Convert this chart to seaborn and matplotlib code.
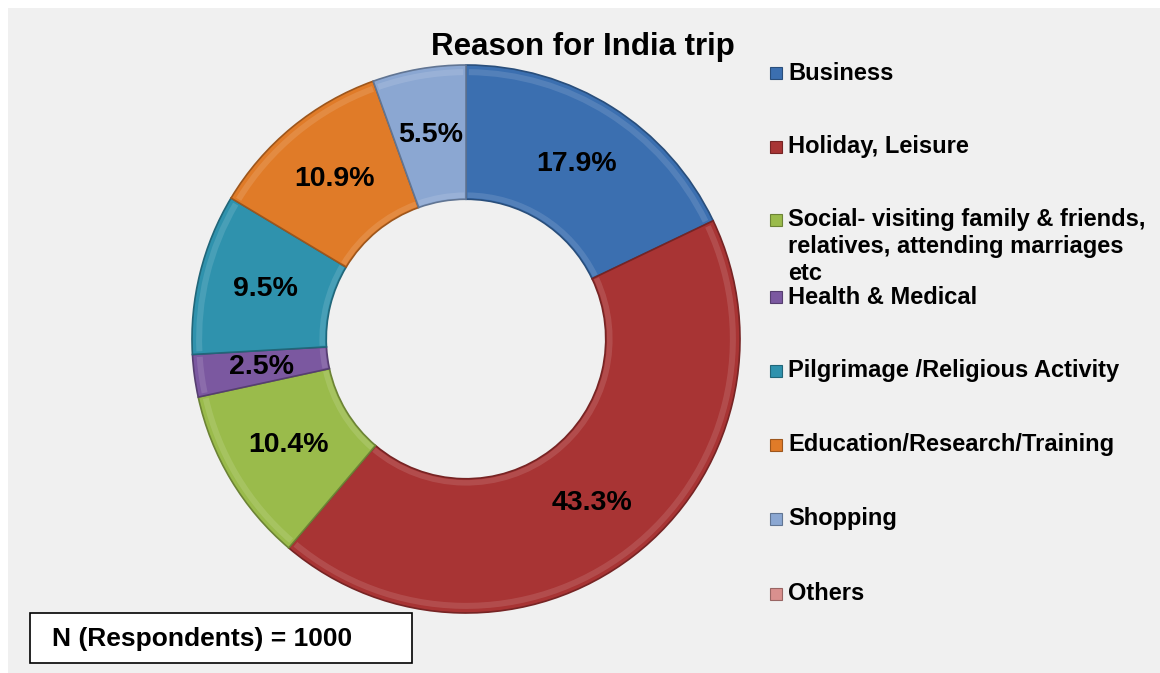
import matplotlib
matplotlib.use("Agg")
import matplotlib.pyplot as plt
from matplotlib.patches import Rectangle, Wedge
import numpy as np
import seaborn as sns

# Survey breakdown: reason for travelling to India (% of respondents)
categories = [
    "Business",
    "Holiday, Leisure",
    "Social- visiting family & friends,\nrelatives, attending marriages\netc",
    "Health & Medical",
    "Pilgrimage /Religious Activity",
    "Education/Research/Training",
    "Shopping",
    "Others",
]
shares = [17.9, 43.3, 10.4, 2.5, 9.5, 10.9, 5.5, 0.0]
colors = ["#3B6FB0", "#A83434", "#9ABB4B", "#7B58A0",
          "#2F92AD", "#E07B28", "#8BA7D2", "#D9908E"]
title = "Reason for India trip"
note = "N (Respondents) = 1000"

sns.set_theme(style="white")
plt.rcParams["font.family"] = ["Liberation Sans", "DejaVu Sans"]
plt.rcParams["font.weight"] = "bold"

W, H = 1160, 673
fig = plt.figure(figsize=(W / 100, H / 100), dpi=100)
fig.patch.set_facecolor("white")

# light grey chart area
fig.patches.append(Rectangle((8 / W, 0), 1 - 8 / W, (H - 8) / H,
                             transform=fig.transFigure, facecolor="#F0F0F0",
                             edgecolor="none", zorder=-10))

cx, cy, R = 466, 339, 274
ax = fig.add_axes([(cx - R) / W, (H - cy - R) / H, 2 * R / W, 2 * R / H])
ax.set_facecolor("none")

palette = sns.color_palette(colors)
edge_cols = [tuple(np.clip(np.array(c) * 0.7, 0, 1)) for c in palette]

ring = 0.49
wedges, _ = ax.pie(shares, colors=palette, startangle=90, counterclock=False,
                   radius=1.0,
                   wedgeprops=dict(width=ring, linewidth=1.2, edgecolor="#444444"))
for w, v, ec in zip(wedges, shares, edge_cols):
    w.set_edgecolor(ec)
    if v == 0:
        w.set_visible(False)

# soft bevel highlight along the outer and inner rims
for w, v, c in zip(wedges, shares, palette):
    if v == 0:
        continue
    light = tuple(np.clip(np.array(c) + (1 - np.array(c)) * 0.35, 0, 1))
    for r, wd in ((0.985, 0.022), (0.535, 0.02)):
        ax.add_patch(Wedge((0, 0), r, w.theta1 + 0.6, w.theta2 - 0.6,
                           width=wd, facecolor=light, edgecolor="none", alpha=0.35))

# percentage labels at ring mid-radius
for w, v in zip(wedges, shares):
    if v == 0:
        continue
    mid = np.deg2rad((w.theta1 + w.theta2) / 2)
    rr = 1 - ring / 2
    ax.text(rr * np.cos(mid), rr * np.sin(mid), f"{v:.1f}%",
            ha="center", va="center", fontsize=20.5, fontweight="bold", color="black")

ax.set_xlim(-1, 1)
ax.set_ylim(-1, 1)
ax.set_aspect("equal")
ax.axis("off")

fig.text(583 / W, 1 - 47 / H, title, ha="center", va="center",
         fontsize=22.5, fontweight="bold", color="black")

# legend
leg_y = [73, 147, 220, 297, 371, 445, 519, 594]
for lab, c, y in zip(categories, palette, leg_y):
    sq = 12
    fig.patches.append(Rectangle((770 / W, 1 - (y + sq / 2) / H), sq / W, sq / H,
                                 transform=fig.transFigure, facecolor=c,
                                 edgecolor=tuple(np.array(c) * 0.7), linewidth=0.8))
    for i, line in enumerate(lab.split("\n")):
        fig.text(788 / W, 1 - (y + i * 26.5) / H, line, ha="left", va="center",
                 fontsize=17, fontweight="bold", color="black")

# respondents box
fig.patches.append(Rectangle((30 / W, 1 - 663 / H), 382 / W, 50 / H,
                             transform=fig.transFigure, facecolor="white",
                             edgecolor="black", linewidth=1.2))
fig.text(52 / W, 1 - 639 / H, note, ha="left", va="center",
         fontsize=19, fontweight="bold", color="black")

fig.savefig("out.png", dpi=100)
